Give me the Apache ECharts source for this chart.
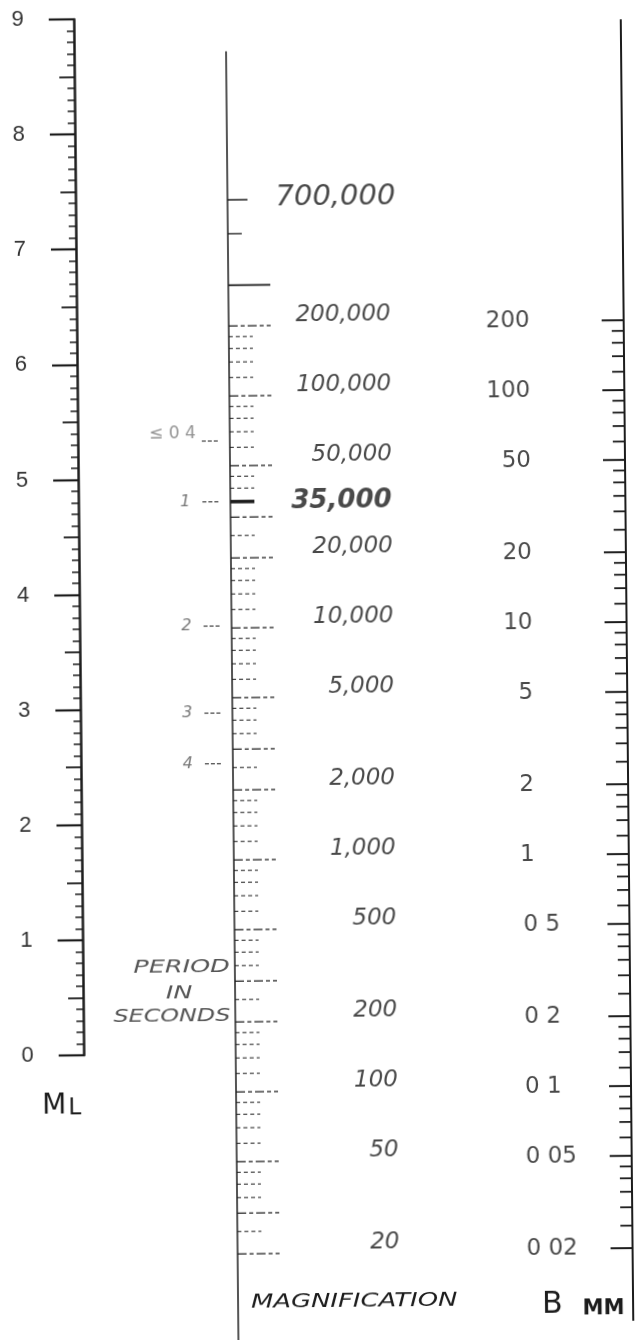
<!DOCTYPE html>
<html>
<head>
<meta charset="utf-8">
<script src="https://cdn.jsdelivr.net/npm/echarts@6/dist/echarts.min.js"></script>
<style>
  html, body { margin: 0; padding: 0; background: #fff; overflow: hidden; }
  /* the scanned nomogram is slightly rotated */
  #chart { width: 637px; height: 1340px; transform: rotate(-0.55deg); }
</style>
</head>
<body>
<div id="chart"></div>
<script>
// ML scale (left)
const mlMin = 0;
const mlMax = 9;

// Magnification scale (middle)
const magLabels = ['700,000', '200,000', '100,000', '50,000', '35,000', '20,000', '10,000', '5,000', '2,000', '1,000', '500', '200', '100', '50', '20'];
const magValues = [700000, 200000, 100000, 50000, 35000, 20000, 10000, 5000, 2000, 1000, 500, 200, 100, 50, 20];
const magTopTicks = [300000, 500000, 700000];
const magTickRange = [20, 200000];

// subdivisions of each decade, shared by both log scales
const decadeSteps = [1, 1.2, 1.4, 1.6, 1.8, 2, 2.5, 3, 3.5, 4, 4.5, 5, 6, 7, 8, 9];

const periodLabels = ['≤ 0 4', '1', '2', '3', '4'];
const periodMag = [64000, 35000, 10200, 4300, 2600];

// B scale (right), amplitude in mm
const bLabels = ['200', '100', '50', '20', '10', '5', '2', '1', '0 5', '0 2', '0 1', '0 05', '0 02'];
const bValues = [200, 100, 50, 20, 10, 5, 2, 1, 0.5, 0.2, 0.1, 0.05, 0.02];
const bTickRange = [0.02, 200];

const ink = '#1c1c1c';
const soft = '#555';

const subTicks = (lo, hi) => {
    const out = [];
    for (let d = 0.01; d <= 1e6; d *= 10) {
        decadeSteps.forEach((s) => {
            const v = +(s * d).toPrecision(6);
            if (v >= lo && v <= hi) out.push(v);
        });
    }
    return out;
};
const mantissa = (v) => +(v / Math.pow(10, Math.floor(Math.log10(v) + 1e-9))).toFixed(3);

// tick kinds -> drawing style
const tickStyles = {
    0: { gap: 0, len: 24, width: 1, dash: [4, 3] },        // mag minor
    1: { gap: 0, len: 42, width: 1.2, dash: [9, 3, 4, 3] }, // mag major
    2: { gap: 0, len: 24, width: 3.5, dash: null },        // 35,000
    3: { gap: 0, len: 42, width: 1.8, dash: null },        // 300,000
    4: { gap: 0, len: 14, width: 1.3, dash: null },
    5: { gap: 0, len: 20, width: 1.5, dash: null },
    6: { gap: 0, len: 12, width: 1.8, dash: null },        // B minor
    7: { gap: 0, len: 22, width: 2, dash: null },          // B major
    8: { gap: 12, len: 18, width: 1, dash: [4, 2] },       // period
};

const tickRenderer = (dir) => (params, api) => {
    const p = api.coord([api.value(0), api.value(1)]);
    const s = tickStyles[api.value(2)];
    return {
        type: 'line',
        shape: { x1: p[0] + dir * s.gap, y1: p[1], x2: p[0] + dir * (s.gap + s.len), y2: p[1] },
        style: { stroke: ink, lineWidth: s.width, lineDash: s.dash },
    };
};

const magTickData = subTicks(magTickRange[0], magTickRange[1]).map((v) => {
    const m = mantissa(v);
    let kind = [1, 2, 3, 5].includes(m) ? 1 : 0;
    if (v === 35000) kind = 2;
    return [0, Math.log10(v), kind];
}).concat(magTopTicks.map((v, i) => [0, Math.log10(v), 3 + i]));

const bTickData = subTicks(bTickRange[0], bTickRange[1]).map((v) => {
    const m = mantissa(v);
    return [0, Math.log10(v), [1, 2, 5].includes(m) ? 7 : 6];
});

const periodTickData = periodMag.map((v) => [0, Math.log10(v), 8]);

const magLabelData = magValues.map((v, i) => {
    const item = { name: magLabels[i], value: [0, Math.log10(v)] };
    if (magLabels[i] === '700,000') item.label = { align: 'left', offset: [48, -2], fontSize: 29 };
    if (magLabels[i] === '35,000') item.label = { align: 'left', offset: [61, 0], fontSize: 26, fontWeight: 'bold' };
    return item;
});

const bLabelData = bValues.map((v, i) => {
    const item = { name: bLabels[i], value: [0, Math.log10(v)] };
    if (v < 1) item.label = { align: 'left', offset: [-106, 0] };
    return item;
});

const periodLabelData = periodMag.map((v, i) => {
    const item = { name: periodLabels[i], value: [0, Math.log10(v)] };
    if (i === 0) item.label = { offset: [-34, -7], fontSize: 17, fontStyle: 'normal', color: '#777' };
    return item;
});

const hiddenX = (gridIndex) => ({ type: 'value', gridIndex, min: 0, max: 1, show: false });
const plainY = (gridIndex, min, max, width) => ({
    type: 'value', gridIndex, min, max, position: 'left',
    axisLine: { show: true, lineStyle: { color: ink, width } },
    axisTick: { show: false }, axisLabel: { show: false }, splitLine: { show: false },
});
const labelSeries = (xi, yi, data, label) => ({
    type: 'scatter', xAxisIndex: xi, yAxisIndex: yi, data,
    symbolSize: 1, itemStyle: { color: 'transparent' }, silent: true,
    label: Object.assign({ show: true, position: 'inside', formatter: (p) => p.name, color: ink, fontFamily: 'DejaVu Sans' }, label),
});

const chart = echarts.init(document.getElementById('chart'));

chart.setOption({
    animation: false,
    backgroundColor: '#fff',
    grid: [
        { left: 80, top: 17, width: 1, height: 1036 },   // ML
        { left: 232, top: 51, width: 200, height: 1289 }, // magnification
        { left: 627, top: 23, width: 1, height: 1300 },  // B mm
    ],
    xAxis: [hiddenX(0), hiddenX(1), hiddenX(2)],
    yAxis: [
        {
            type: 'value', gridIndex: 0, min: mlMin, max: mlMax, interval: 0.5, position: 'left',
            axisLine: { show: true, lineStyle: { color: ink, width: 2.5 } },
            axisTick: { show: true, length: 15, lineStyle: { color: ink, width: 1.8 } },
            minorTick: { show: true, splitNumber: 5, length: 7, lineStyle: { color: ink, width: 1.5 } },
            axisLabel: { show: false }, splitLine: { show: false }, minorSplitLine: { show: false },
        },
        {
            type: 'value', gridIndex: 0, min: mlMin, max: mlMax, interval: 1, position: 'left', offset: 0,
            axisLine: { show: false },
            axisTick: { show: true, length: 25, lineStyle: { color: ink, width: 2.2 } },
            axisLabel: { margin: 50, fontSize: 22, color: '#333', fontFamily: 'Liberation Sans' },
            splitLine: { show: false },
        },
        // log10 of magnification, 232 px per decade
        plainY(1, 0.927, 6.483, 1.5),
        // log10 of B in mm, 232 px per decade
        plainY(2, -2.009, 3.595, 2),
    ],
    series: [
        { type: 'custom', xAxisIndex: 1, yAxisIndex: 2, data: magTickData, renderItem: tickRenderer(1), silent: true, clip: false },
        { type: 'custom', xAxisIndex: 1, yAxisIndex: 2, data: periodTickData, renderItem: tickRenderer(-1), silent: true, clip: false },
        { type: 'custom', xAxisIndex: 2, yAxisIndex: 3, data: bTickData, renderItem: tickRenderer(-1), silent: true, clip: false },
        labelSeries(1, 2, magLabelData, { align: 'right', offset: [162, -10], fontSize: 23, fontStyle: 'italic' }),
        labelSeries(1, 2, periodLabelData, { align: 'right', offset: [-40, 0], fontSize: 16, fontStyle: 'italic', color: soft }),
        labelSeries(2, 3, bLabelData, { align: 'right', offset: [-94, 0], fontSize: 23 }),
    ],
    graphic: [
        {
            type: 'text', x: 38, y: 1118,
            style: {
                text: '{m|M}{l|L}', fill: ink, textVerticalAlign: 'bottom',
                rich: {
                    m: { fontSize: 28, fontFamily: 'DejaVu Sans', verticalAlign: 'bottom' },
                    l: { fontSize: 23, fontFamily: 'DejaVu Sans', verticalAlign: 'bottom', padding: [0, 0, 0, 2] },
                },
            },
        },
        { type: 'text', x: 227, y: 967, scaleX: 1.5, style: { text: 'PERIOD', font: 'italic 17px "DejaVu Sans"', fill: soft, align: 'right', verticalAlign: 'middle' } },
        { type: 'text', x: 176, y: 993, scaleX: 1.5, style: { text: 'IN', font: 'italic 17px "DejaVu Sans"', fill: soft, align: 'center', verticalAlign: 'middle' } },
        { type: 'text', x: 227, y: 1016, scaleX: 1.4, style: { text: 'SECONDS', font: 'italic 17px "DejaVu Sans"', fill: soft, align: 'right', verticalAlign: 'middle' } },
        { type: 'text', x: 245, y: 1302, scaleX: 1.36, style: { text: 'MAGNIFICATION', font: 'italic 19px "DejaVu Sans"', fill: ink, align: 'left', verticalAlign: 'middle' } },
        {
            type: 'text', x: 536, y: 1322,
            style: {
                text: '{b|B}{m|MM}', fill: ink, textVerticalAlign: 'bottom',
                rich: {
                    b: { fontSize: 30, fontFamily: 'DejaVu Sans', verticalAlign: 'bottom' },
                    m: { fontSize: 21, fontFamily: 'DejaVu Sans', fontWeight: 'bold', verticalAlign: 'bottom', padding: [0, 0, 0, 20] },
                },
            },
        },
    ],
});
</script>
</body>
</html>
